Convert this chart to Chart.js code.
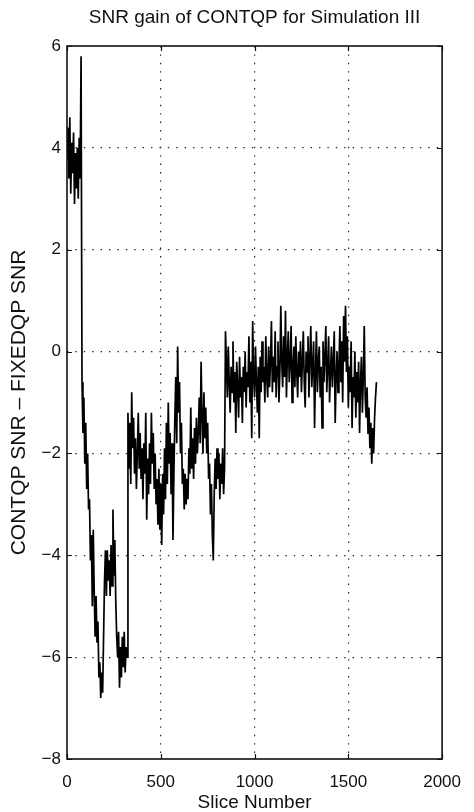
<!DOCTYPE html>
<html>
<head>
<meta charset="utf-8">
<title>SNR gain of CONTQP for Simulation III</title>
<script src="https://cdn.jsdelivr.net/npm/chart.js@4.4.1/dist/chart.umd.min.js"></script>
<style>
  html, body { margin: 0; padding: 0; background: #fff; }
  canvas { display: block; }
</style>
</head>
<body>
<canvas id="snr" width="474" height="812"></canvas>
<script>
// CONTQP SNR minus FIXEDQP SNR, one value every 5 slices (0 .. 1650)
var sliceStep = 5;
var snrGain = [
  3.8, 4.4, 3.4, 4.6, 3.1, 4.1, 3.5, 4.3, 2.9, 3.9, 3.2, 4.0, 3.0, 4.2, 3.4, 5.8, -0.6, -1.6, -0.9, -2.2,
  -1.4, -2.7, -2.0, -3.1, -2.9, -4.1, -3.6, -5.0, -3.5, -4.7, -5.6, -4.8, -5.7, -5.3, -6.4, -6.1, -6.8, -6.3, -6.7, -5.6,
  -4.5, -3.9, -4.8, -3.9, -4.5, -4.1, -4.8, -3.8, -4.6, -3.1, -4.4, -3.7, -4.9, -5.6, -6.0, -5.5, -6.6, -5.8, -6.4, -5.6,
  -6.2, -5.5, -6.3, -5.8, -6.0, -1.2, -2.3, -1.4, -2.6, -0.8, -1.9, -1.3, -2.4, -1.7, -2.7, -2.0, -1.2, -2.3, -1.6, -2.5,
  -1.9, -2.9, -1.8, -2.4, -1.2, -3.3, -2.1, -2.8, -1.8, -2.6, -1.2, -2.2, -1.6, -2.7, -2.0, -3.0, -2.5, -3.4, -2.3, -3.5,
  -2.6, -3.8, -2.4, -3.2, -1.9, -2.9, -1.4, -2.6, -1.0, -2.2, -1.6, -2.8, -1.8, -3.7, -2.4, -1.3, -0.5, -1.8, 0.1, -1.2,
  -0.6, -2.0, -1.4, -2.6, -2.3, -3.1, -2.4, -3.0, -2.5, -2.9, -1.9, -2.4, -1.1, -2.3, -1.7, -2.5, -1.5, -2.2, -1.3, -2.0,
  -1.6, -0.9, -1.8, -0.2, -1.3, -2.0, -0.8, -1.7, -1.1, -2.0, -1.4, -2.5, -2.2, -3.2, -2.6, -3.6, -4.1, -2.8, -2.1, -2.7,
  -1.9, -2.5, -2.0, -2.9, -2.2, -2.6, -1.9, -2.8, -2.3, 0.4, -0.2, -0.9, 0.1, -0.6, -1.2, -0.3, -0.8, 0.2, -1.0, -0.4,
  -1.6, -0.2, -0.7, -1.3, -0.1, -0.9, -0.5, -1.4, -0.3, -0.8, 0.0, -1.1, -0.4, -0.7, 0.3, -1.0, -0.2, -1.7, 0.6, -0.5,
  -0.9, 0.1, -0.6, -1.2, -0.3, -1.7, -0.1, -0.8, 0.2, -0.6, -0.3, -1.0, 0.3, -0.5, -0.9, 0.1, -0.7, -0.2, 0.6, -0.8,
  -0.1, -0.6, 0.4, -0.9, -0.3, 0.2, -1.0, -0.4, 0.9, -0.2, -0.7, 0.3, -0.5, 0.8, -0.9, -0.1, 0.4, -0.6, -0.2, 0.5,
  -1.0, -0.3, 0.1, -0.7, 0.3, -0.4, -0.9, 0.0, -0.5, 0.2, -0.8, -0.2, 0.4, -0.6, -1.1, 0.0, -0.4, 0.3, -0.9, -0.1,
  0.5, -0.7, -0.3, 0.2, -1.5, -0.4, 0.4, -0.8, -0.2, 0.1, -0.9, -0.3, -1.5, 0.2, -0.6, -0.1, 0.5, -0.8, -0.3, 0.3,
  -1.0, -0.4, 0.1, -0.7, -0.2, 0.4, -1.4, -0.5, 0.0, -0.8, -0.3, 0.5, -0.6, 0.2, -1.0, 0.7, -0.2, 0.9, -0.4, 0.3,
  -1.1, -0.3, -0.8, 0.2, -1.5, -0.5, -0.9, 0.0, -1.3, -0.4, -1.0, -0.2, -1.6, -0.6, -0.1, -1.2, -0.5, 0.5, -0.9, -1.3,
  -0.7, -1.6, -1.1, -1.9, -1.4, -2.2, -1.5, -2.0, -1.3, -0.9, -0.6
];
var slices = snrGain.map(function (v, i) { return i * sliceStep; });

var xTicks = [0, 500, 1000, 1500, 2000];
var yTicks = [-8, -6, -4, -2, 0, 2, 4, 6];

var fontFamily = "'Liberation Sans', Arial, Helvetica, sans-serif";

// dotted grid, but nothing on the box edges
var gridColor = function (c) {
    if (!c.tick) return 'rgba(0,0,0,0)';
    var v = c.tick.value;
    var ends = c.scale.axis === 'x' ? xTicks : yTicks;
    if (v === ends[0] || v === ends[ends.length - 1]) return 'rgba(0,0,0,0)';
    return '#222';
};

// box around the plot with short inward tick marks on all four sides
var framePlugin = {
    id: 'frame',
    afterDraw: function (chart) {
        var ctx = chart.ctx;
        var a = chart.chartArea;
        var sx = chart.scales.x;
        var sy = chart.scales.y;
        ctx.save();
        ctx.strokeStyle = '#111';
        ctx.lineWidth = 1.2;
        ctx.beginPath();
        xTicks.forEach(function (v) {
            var px = Math.round(sx.getPixelForValue(v)) + 0.5;
            ctx.moveTo(px, a.bottom); ctx.lineTo(px, a.bottom - 5);
            ctx.moveTo(px, a.top); ctx.lineTo(px, a.top + 5);
        });
        yTicks.forEach(function (v) {
            var py = Math.round(sy.getPixelForValue(v)) + 0.5;
            ctx.moveTo(a.left, py); ctx.lineTo(a.left + 5, py);
            ctx.moveTo(a.right, py); ctx.lineTo(a.right - 5, py);
        });
        ctx.stroke();
        ctx.lineWidth = 1.6;
        ctx.strokeRect(a.left, a.top, a.right - a.left, a.bottom - a.top);
        ctx.restore();
    }
};

Chart.defaults.color = '#111';
Chart.defaults.font.family = fontFamily;

var chart = new Chart(document.getElementById('snr').getContext('2d'), {
    type: 'line',
    data: {
        datasets: [{
            label: 'SNR gain',
            data: slices.map(function (s, i) { return { x: s, y: snrGain[i] }; }),
            borderColor: '#000',
            borderWidth: 1.7,
            pointRadius: 0,
            tension: 0,
            fill: false
        }]
    },
    options: {
        responsive: false,
        animation: false,
        events: [],
        layout: { padding: { top: 0, right: 27, bottom: 0, left: 0 } },
        plugins: {
            legend: { display: false },
            tooltip: { enabled: false },
            title: {
                display: true,
                fullSize: false,
                text: 'SNR gain of CONTQP for Simulation III',
                color: '#111',
                font: { size: 19, weight: 'normal', lineHeight: 1.2 },
                padding: { top: 6.6, bottom: 16.6 }
            }
        },
        scales: {
            x: {
                type: 'linear',
                min: 0,
                max: 2000,
                afterBuildTicks: function (scale) {
                    scale.ticks = xTicks.map(function (v) { return { value: v }; });
                },
                afterFit: function (scale) { scale.height = 53; },
                grid: { color: gridColor, lineWidth: 1.2, drawTicks: false },
                border: { display: false, dash: [1.4, 7] },
                ticks: {
                    padding: 13,
                    maxRotation: 0,
                    font: { size: 17 },
                    color: '#111',
                    callback: function (v) { return String(v); }
                },
                title: {
                    display: true,
                    text: 'Slice Number',
                    color: '#111',
                    font: { size: 19, lineHeight: 1 },
                    padding: { top: 0, bottom: 0 }
                }
            },
            y: {
                min: -8,
                max: 6,
                afterBuildTicks: function (scale) {
                    scale.ticks = yTicks.map(function (v) { return { value: v }; });
                },
                afterFit: function (scale) { scale.width = 67; },
                grid: { color: gridColor, lineWidth: 1.2, drawTicks: false },
                border: { display: false, dash: [1.4, 7] },
                ticks: {
                    padding: 6,
                    font: { size: 17 },
                    color: '#111',
                    callback: function (v) { return String(v).replace('-', '\u2212'); }
                },
                title: {
                    display: true,
                    text: 'CONTQP SNR \u2013 FIXEDQP SNR',
                    color: '#111',
                    font: { size: 21, lineHeight: 1.2 },
                    padding: { top: 7, bottom: 0 }
                }
            }
        }
    },
    plugins: [framePlugin]
});
</script>
</body>
</html>
